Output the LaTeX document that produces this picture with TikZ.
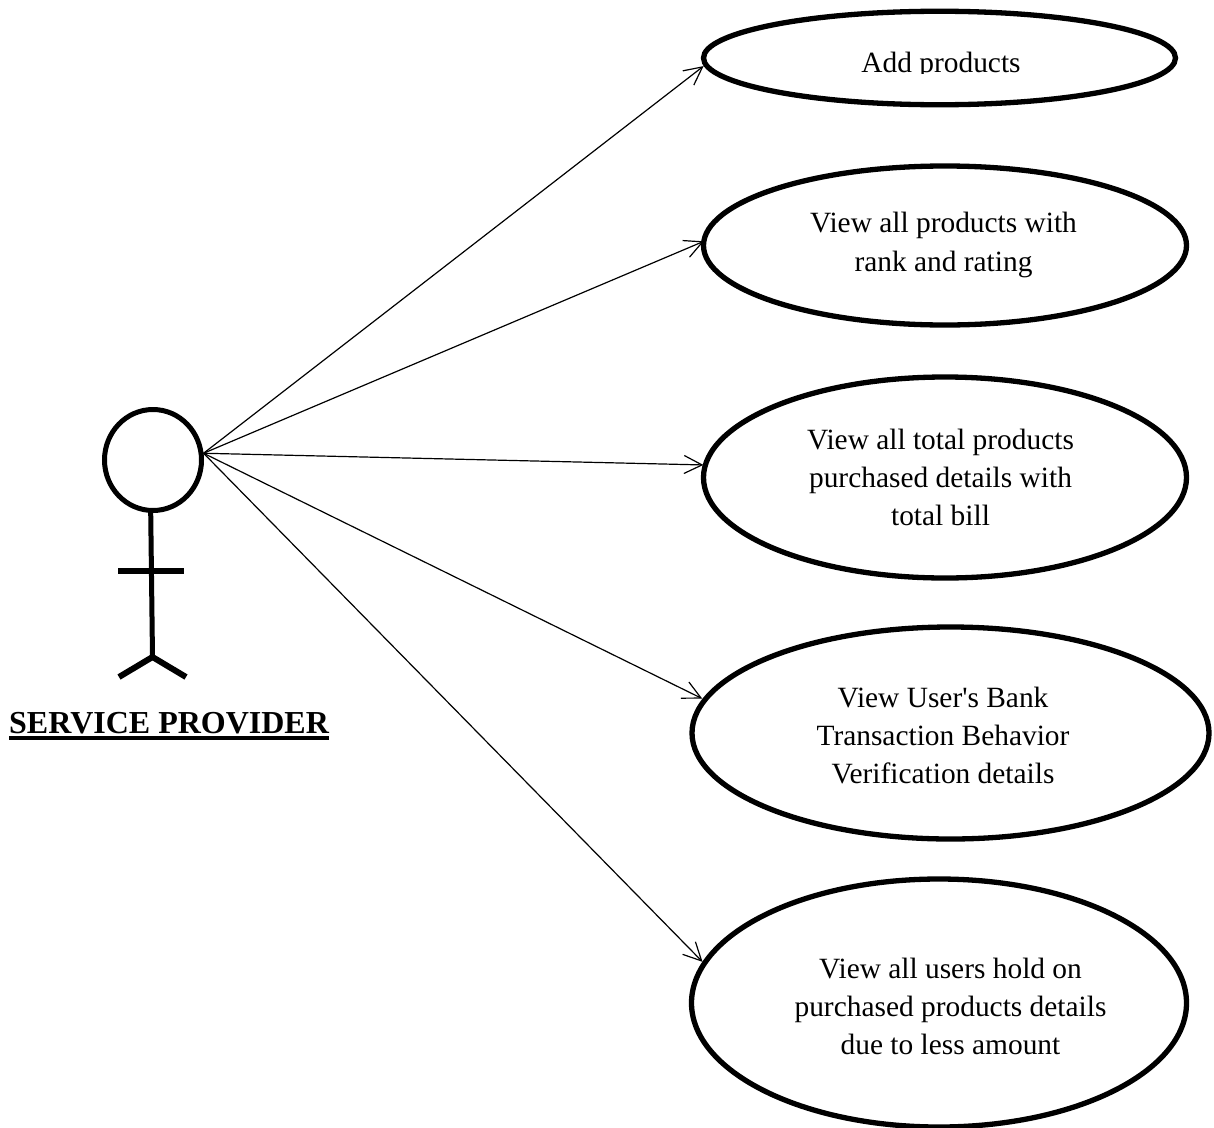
\documentclass[tikz,border=0pt]{standalone}
\usepackage{fontspec}
\setmainfont{Liberation Serif}
\newfontfamily\plainquote{Liberation Serif}
\usetikzlibrary{shapes.geometric,arrows.meta}
\tikzset{
 usecase/.style={draw=black,line width=5.3pt,ellipse,inner sep=0pt,outer sep=0pt},
 casetext/.style={align=center,inner sep=0pt,font=\fontsize{29.4}{38}\selectfont},
 actorbody/.style={draw=black,line width=5pt},
 actorlimb/.style={draw=black,line width=6pt},
 link/.style={draw=black,line width=1.2pt,-{Straight Barb[length=18pt,width=18pt,line width=1.2pt]}}
}
\begin{document}
\begin{tikzpicture}[x=1pt,y=-1pt]
\useasboundingbox (0,0) rectangle (1214,1127);
\clip (0,0) rectangle (1214,1127);
\node[usecase,minimum width=472pt,minimum height=93.5pt] (a) at (939.5,58) {};
\begin{scope}
\clip (840,40) rectangle (1040,73.5);
\node[casetext] (at) at (941,65) {Add products};
\end{scope}
\node[usecase,minimum width=483pt,minimum height=159pt] (b) at (945,245.5) {};
\node[casetext,font=\fontsize{29.4}{39}\selectfont] (bt) at (943.5,244.5) {View all products with\\rank and rating};
\node[usecase,minimum width=483pt,minimum height=201pt] (c) at (945,477.5) {};
\node[casetext] (ct) at (940.5,477) {View all total products\\purchased details with\\total bill};
\node[usecase,minimum width=517pt,minimum height=212pt] (d) at (950.5,733) {};
\node[casetext] (dt) at (943,736) {View User{\plainquote '}s Bank\\Transaction Behavior\\Verification details};
\node[usecase,minimum width=495pt,minimum height=248pt] (e) at (939,1003) {};
\node[casetext] (et) at (950.5,1006) {View all users hold on\\purchased products details\\due to less amount};
\node[draw=black,line width=5pt,ellipse,minimum width=97pt,minimum height=101pt,inner sep=0pt,outer sep=0pt] (head) at (153,460) {};
\coordinate (neck) at (150.7,512);
\coordinate (hip) at (152.5,657);
\coordinate (armL) at (118,571);
\coordinate (armR) at (183.5,571);
\coordinate (footL) at (119,677);
\coordinate (footR) at (186,677);
\path[actorbody] (neck) -- (hip);
\path[actorlimb] (armL) -- (armR);
\path[actorlimb] (footL) -- (hip) -- (footR);
\node[anchor=base west,inner sep=0pt,font=\bfseries\fontsize{32}{36}\selectfont] (lab) at (9,733) {\rlap{\rule[-6.5pt]{320pt}{4pt}}SERVICE PROVIDER};
\coordinate (src) at ([xshift=2.5pt]head.8);
\coordinate (ta) at ([xshift=-3.5pt]a.182.65);
\coordinate (tb) at (b.179.6);
\coordinate (tc) at ([xshift=-2pt]c.177.3);
\coordinate (td) at ([xshift=-3.7pt]d.172.3);
\coordinate (te) at ([xshift=-3pt]e.170.4);
\foreach \t in {ta,tb,tc,td,te} \draw[link] (src) -- (\t);
\end{tikzpicture}
\end{document}
